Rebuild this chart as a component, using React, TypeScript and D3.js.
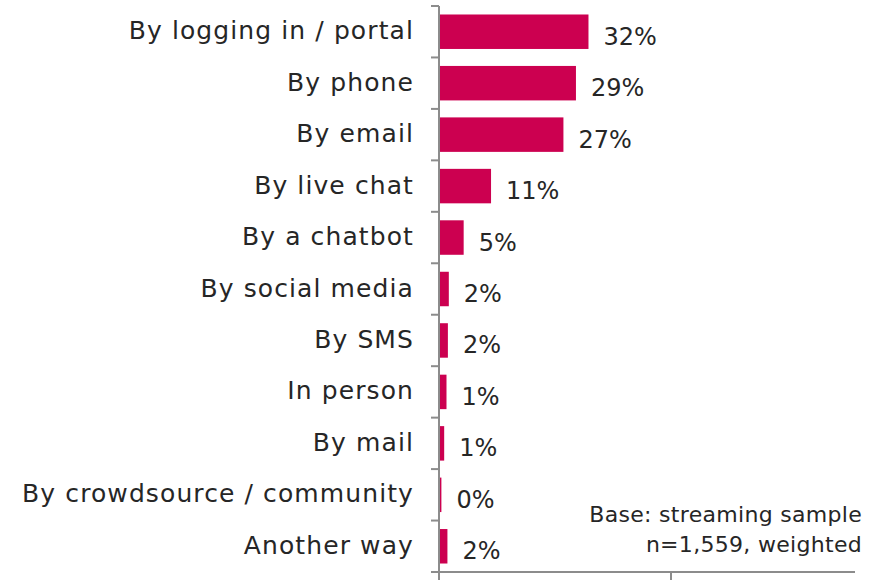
import React from "react";
import * as d3 from "d3";

const categories = [
  "By logging in / portal",
  "By phone",
  "By email",
  "By live chat",
  "By a chatbot",
  "By social media",
  "By SMS",
  "In person",
  "By mail",
  "By crowdsource / community",
  "Another way",
];
const values = [32.0, 29.3, 26.6, 11.0, 5.1, 1.9, 1.7, 1.4, 0.9, 0.3, 1.6];
const valueLabels = ["32%", "29%", "27%", "11%", "5%", "2%", "2%", "1%", "1%", "0%", "2%"];
const xTicks = [0, 50];
const noteLines = ["Base: streaming sample", "n=1,559, weighted"];

const W = 877;
const H = 580;
const axisX = 439;
const top = 6;
const bottom = 572;

export default function App() {
  const x = d3.scaleLinear().domain([0, 100]).range([axisX, axisX + 464]);
  const y = d3.scaleBand<string>().domain(categories).range([top, bottom]).paddingInner(0.33).paddingOuter(0.165);
  const bandStep = (bottom - top) / categories.length;
  const tickYs = d3.range(categories.length + 1).map((i) => top + i * bandStep);
  const axisColor = "#8c8c8c";
  const textColor = "#262626";
  const font = "'DejaVu Sans', sans-serif";

  return (
    <svg width={W} height={H} style={{ position: "absolute", left: 0, top: 0, background: "#fff" }}>
      {categories.map((c, i) => {
        const by = y(c)!;
        const bh = y.bandwidth();
        const cy = by + bh / 2;
        return (
          <g key={c}>
            <rect x={x(0) + 1} y={by} width={Math.max(0.8, x(values[i]) - x(0))} height={bh} fill="#cc0050" />
            <text x={414} y={cy + 7.5} textAnchor="end" fontFamily={font} fontSize={25} letterSpacing={1.1} fill={textColor}>
              {c}
            </text>
            <text x={x(values[i]) + 16} y={cy + 13} textAnchor="start" fontFamily={font} fontSize={24} fill={textColor}>
              {valueLabels[i]}
            </text>
          </g>
        );
      })}
      {/* vertical axis */}
      <line x1={axisX} x2={axisX} y1={top} y2={579} stroke={axisColor} strokeWidth={2} />
      {tickYs.map((ty, i) => (
        <line key={i} x1={axisX - 8} x2={axisX} y1={ty} y2={ty} stroke={axisColor} strokeWidth={2} />
      ))}
      {/* horizontal axis */}
      <line x1={axisX - 8} x2={855} y1={bottom} y2={bottom} stroke={axisColor} strokeWidth={2} />
      {xTicks.map((t) => (
        <line key={t} x1={x(t)} x2={x(t)} y1={bottom} y2={580} stroke={axisColor} strokeWidth={2} />
      ))}
      {noteLines.map((l, i) => (
        <text key={l} x={862} y={522 + i * 30} textAnchor="end" fontFamily={font} fontSize={22} letterSpacing={0.3} fill={textColor}>
          {l}
        </text>
      ))}
    </svg>
  );
}
